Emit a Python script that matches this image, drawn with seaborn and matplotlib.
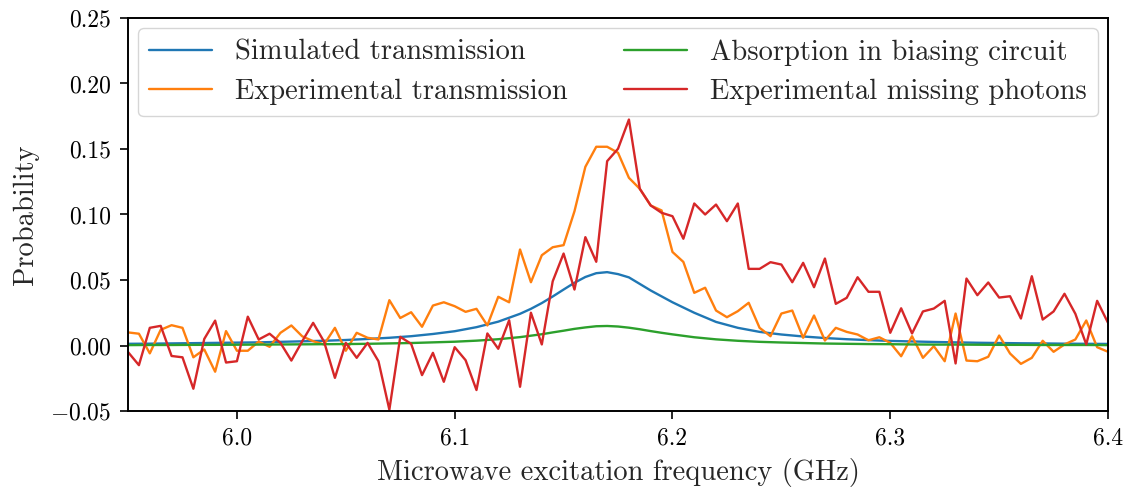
import numpy as np
import pandas as pd
import matplotlib
matplotlib.use("Agg")
import matplotlib.pyplot as plt
import seaborn as sns

# ---------------- data ----------------
freq_exp_start = 5.95
freq_exp_step = 0.005
exp_transmission = [
    0.010, 0.009, -0.006, 0.012, 0.0155, 0.0135, -0.009, -0.003, -0.020, 0.011,
    -0.004, -0.004, 0.003, -0.001, 0.0097, 0.0153, 0.007, 0.0033, 0.0008, 0.0135,
    -0.004, 0.0097, 0.0059, 0.0046, 0.0346, 0.021, 0.0254, 0.0143, 0.0305, 0.033,
    0.030, 0.0257, 0.028, 0.0153, 0.0372, 0.0330, 0.0733, 0.0483, 0.0689, 0.0750,
    0.0766, 0.1025, 0.1364, 0.1517, 0.1517, 0.1471, 0.1280, 0.1196, 0.1069, 0.1031,
    0.0714, 0.0638, 0.0402, 0.0441, 0.0267, 0.0216, 0.0262, 0.0326, 0.0135, 0.0071,
    0.0244, 0.0267, 0.0059, 0.0229, 0.0038, 0.0135, 0.0104, 0.0084, 0.0040, 0.0063,
    0.0020, -0.0082, 0.0071, -0.0094, -0.0005, -0.0120, 0.0244, -0.0115, -0.0120, -0.0086,
    0.0076, -0.0061, -0.0140, -0.0094, 0.0036, -0.0048, 0.0008, 0.0046, 0.0191, -0.0013,
    -0.0048,
]
exp_missing = [
    -0.005, -0.015, 0.0135, 0.015, -0.008, -0.009, -0.033, 0.005, 0.019, -0.013,
    -0.012, 0.022, 0.0046, 0.009, 0.002, -0.0115, 0.0033, 0.0173, 0.003, -0.0247,
    0.002, -0.0094, 0.002, -0.012, -0.049, 0.0066, 0.0013, -0.0226, -0.0056, -0.0277,
    -0.0013, -0.0112, -0.034, 0.0092, -0.0025, 0.0193, -0.0315, 0.0250, 0.0008, 0.049,
    0.0702, 0.0427, 0.0827, 0.0639, 0.1407, 0.1502, 0.1725, 0.1196, 0.1069, 0.1013,
    0.0987, 0.0815, 0.1084, 0.1000, 0.1076, 0.0949, 0.1084, 0.0585, 0.0585, 0.0636,
    0.0618, 0.0483, 0.0631, 0.0445, 0.0664, 0.0318, 0.0364, 0.0521, 0.0410, 0.0410,
    0.0097, 0.0284, 0.0092, 0.0260, 0.0282, 0.0341, -0.0137, 0.0511, 0.0384, 0.0481,
    0.0366, 0.0376, 0.0206, 0.0529, 0.0198, 0.0260, 0.0395, 0.0242, 0.0008, 0.0341,
    0.0173,
]
freq_sim = [
    5.95, 5.96, 5.97, 5.98, 5.99, 6.00, 6.01, 6.02, 6.03, 6.04,
    6.05, 6.06, 6.07, 6.08, 6.09, 6.10, 6.11, 6.12, 6.13, 6.135,
    6.14, 6.145, 6.15, 6.155, 6.16, 6.165, 6.17, 6.175, 6.18, 6.185,
    6.19, 6.195, 6.20, 6.21, 6.22, 6.23, 6.24, 6.25, 6.26, 6.27,
    6.28, 6.29, 6.30, 6.31, 6.32, 6.33, 6.34, 6.35, 6.36, 6.37,
    6.38, 6.39, 6.40,
]
sim_transmission = [
    0.0013, 0.0014, 0.0016, 0.0018, 0.0020, 0.0022, 0.0024, 0.0028, 0.0032, 0.0036,
    0.0042, 0.0050, 0.0059, 0.0071, 0.0088, 0.0109, 0.0140, 0.0182, 0.0242, 0.0280,
    0.0324, 0.0374, 0.0427, 0.0479, 0.0523, 0.0552, 0.0560, 0.0545, 0.0520, 0.0470,
    0.0420, 0.0375, 0.0330, 0.0250, 0.0180, 0.0135, 0.0104, 0.0084, 0.0069, 0.0057,
    0.0048, 0.0041, 0.0035, 0.0031, 0.0027, 0.0024, 0.0021, 0.0019, 0.0017, 0.0016,
    0.0014, 0.0013, 0.0012,
]
absorption_bias = [
    0.0003, 0.0004, 0.0004, 0.0005, 0.0005, 0.0006, 0.0007, 0.0008, 0.0009, 0.0010,
    0.0011, 0.0013, 0.0016, 0.0019, 0.0024, 0.0029, 0.0037, 0.0048, 0.0064, 0.0075,
    0.0086, 0.0100, 0.0113, 0.0127, 0.0138, 0.0147, 0.0149, 0.0145, 0.0136, 0.0124,
    0.0110, 0.0097, 0.0085, 0.0063, 0.0047, 0.0036, 0.0028, 0.0023, 0.0019, 0.0015,
    0.0013, 0.0011, 0.0010, 0.0008, 0.0007, 0.0007, 0.0006, 0.0005, 0.0005, 0.0004,
    0.0004, 0.0004, 0.0003,
]
labels = ["Simulated transmission", "Experimental transmission",
          "Absorption in biasing circuit", "Experimental missing photons"]
x_ticks = [6.0, 6.1, 6.2, 6.3, 6.4]
y_ticks = [-0.05, 0.0, 0.05, 0.10, 0.15, 0.20, 0.25]

# ---------------- frames ----------------
f_exp = np.round(freq_exp_start + freq_exp_step * np.arange(len(exp_transmission)), 4)
df_sim_t = pd.DataFrame({"f": freq_sim, "p": sim_transmission})
df_exp_t = pd.DataFrame({"f": f_exp, "p": exp_transmission})
df_abs = pd.DataFrame({"f": freq_sim, "p": absorption_bias})
df_miss = pd.DataFrame({"f": f_exp, "p": exp_missing})

# ---------------- style ----------------
sns.set_style("ticks")
plt.rcParams["font.family"] = ["cmr10", "DejaVu Serif"]
plt.rcParams["mathtext.fontset"] = "cm"
plt.rcParams["axes.formatter.use_mathtext"] = True
plt.rcParams["axes.unicode_minus"] = True

fig = plt.figure(figsize=(11.28, 4.9), dpi=100)
ax = fig.add_axes([0.1135, 0.1612, 0.8688, 0.8021])

colors = ["#1f77b4", "#ff7f0e", "#2ca02c", "#d62728"]
for df, lab, col in zip([df_sim_t, df_exp_t, df_abs, df_miss], labels, colors):
    sns.lineplot(data=df, x="f", y="p", ax=ax, color=col, label=lab,
                 linewidth=1.7, sort=False)

ax.set_xlim(5.95, 6.4)
ax.set_ylim(-0.05, 0.25)
ax.set_xticks(x_ticks)
ax.set_yticks(y_ticks)
ax.xaxis.set_major_formatter(matplotlib.ticker.FuncFormatter(lambda v, p: f"{v:.1f}"))
ax.yaxis.set_major_formatter(matplotlib.ticker.FuncFormatter(
    lambda v, p: (r"$-$" if v < -1e-9 else "") + f"{abs(v):.2f}"))
ax.tick_params(axis="both", labelsize=17, direction="out", length=6, width=1.2,
               colors="black", pad=6)
for s in ax.spines.values():
    s.set_visible(True)
    s.set_color("black")
    s.set_linewidth(1.4)
ax.set_xlabel("Microwave excitation frequency (GHz)", fontsize=20.5, labelpad=6)
ax.set_ylabel("Probability", fontsize=20.5, labelpad=8)

leg = ax.legend(loc="upper left", ncol=2, fontsize=20.5, frameon=True,
                borderaxespad=0.35, columnspacing=2.0, handlelength=2.2,
                labelspacing=0.45)
leg.get_frame().set_edgecolor("#cccccc")
leg.get_frame().set_alpha(0.8)

fig.savefig("out.png", dpi=100)
